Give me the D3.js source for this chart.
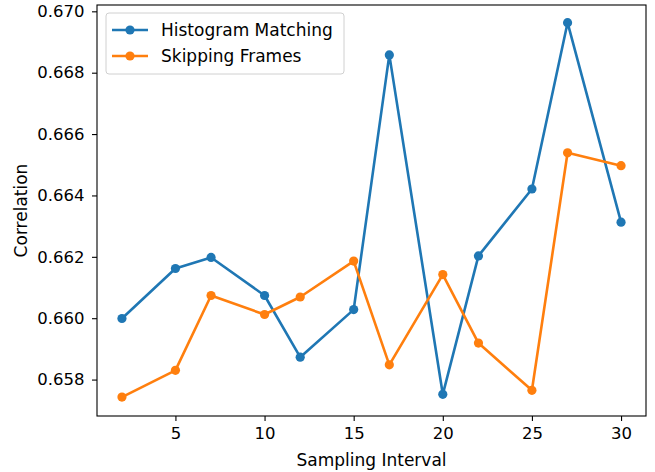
<!DOCTYPE html>
<html>
<head>
<meta charset="utf-8">
<script src="https://cdn.jsdelivr.net/npm/d3@7"></script>
<style>
  body { margin: 0; background: #fff; }
  text { font-family: "DejaVu Sans", sans-serif; fill: #000; }
</style>
</head>
<body>
<script>
// data
var intervals = [2, 5, 7, 10, 12, 15, 17, 20, 22, 25, 27, 30];
var histMatching = [0.65999, 0.66162, 0.66198, 0.66074, 0.65873, 0.66028,
                    0.66858, 0.65752, 0.66203, 0.66421, 0.66963, 0.66313];
var skipFrames = [0.65743, 0.65830, 0.66074, 0.66012, 0.66069, 0.66186,
                  0.65848, 0.66142, 0.65919, 0.65765, 0.66539, 0.66497];
var xTicks = [5, 10, 15, 20, 25, 30];
var yTicks = [0.658, 0.660, 0.662, 0.664, 0.666, 0.668, 0.670];
var seriesNames = ['Histogram Matching', 'Skipping Frames'];

var width = 655, height = 472;
var margin = {left: 97, top: 5, right: 9, bottom: 56};

var x = d3.scaleLinear()
        .domain([0.6, 31.4])
        .range([margin.left, width - margin.right]),
    y = d3.scaleLinear()
        .domain([0.656813, 0.670206])
        .range([height - margin.bottom, margin.top]),
    color = d3.scaleOrdinal()
        .domain(seriesNames)
        .range(['#1f77b4', '#ff7f0e']);

var svg = d3.select('body').append('svg')
    .attr('width', width)
    .attr('height', height);

var series = [
    {name: seriesNames[0], values: histMatching},
    {name: seriesNames[1], values: skipFrames}
];

var line = d3.line()
    .x(function(d) { return x(d[0]); })
    .y(function(d) { return y(d[1]); });

// lines + markers
series.forEach(function(s) {
    var pts = intervals.map(function(v, i) { return [v, s.values[i]]; });
    svg.append('path')
        .datum(pts)
        .attr('d', line)
        .attr('fill', 'none')
        .attr('stroke', color(s.name))
        .attr('stroke-width', 2.6)
        .attr('stroke-linejoin', 'round');
    svg.selectAll(null)
        .data(pts)
      .enter().append('circle')
        .attr('cx', function(d) { return x(d[0]); })
        .attr('cy', function(d) { return y(d[1]); })
        .attr('r', 4.6)
        .attr('fill', color(s.name));
});

// axes
var xAxis = svg.append('g')
    .attr('transform', 'translate(0,' + (height - margin.bottom) + ')')
    .call(d3.axisBottom(x).tickValues(xTicks).tickSize(5).tickPadding(6).tickFormat(d3.format('d')));
var yAxis = svg.append('g')
    .attr('transform', 'translate(' + margin.left + ',0)')
    .call(d3.axisLeft(y).tickValues(yTicks).tickSize(5).tickPadding(7.5).tickFormat(d3.format('.3f')));
[xAxis, yAxis].forEach(function(g) {
    g.attr('font-size', null).attr('font-family', null);
    g.select('.domain').remove();
    g.selectAll('line').attr('stroke', '#000').attr('stroke-width', 1.1);
    g.selectAll('text').style('font-size', '16.5px');
});

// frame
svg.append('rect')
    .attr('x', margin.left)
    .attr('y', margin.top)
    .attr('width', width - margin.right - margin.left)
    .attr('height', height - margin.bottom - margin.top)
    .attr('fill', 'none')
    .attr('stroke', '#000')
    .attr('stroke-width', 1.1);

// axis labels
svg.append('text')
    .attr('x', (margin.left + width - margin.right) / 2)
    .attr('y', 466)
    .attr('text-anchor', 'middle')
    .style('font-size', '17px')
    .text('Sampling Interval');
svg.append('text')
    .attr('transform', 'translate(27,' + ((margin.top + height - margin.bottom) / 2) + ') rotate(-90)')
    .attr('text-anchor', 'middle')
    .style('font-size', '17px')
    .text('Correlation');

// legend
var legend = svg.append('g');
legend.append('rect')
    .attr('x', 106).attr('y', 13)
    .attr('width', 238).attr('height', 61)
    .attr('rx', 3)
    .attr('fill', '#fff').attr('fill-opacity', 0.8)
    .attr('stroke', '#d0d0d0');
var rows = legend.selectAll('.row')
    .data(seriesNames)
  .enter().append('g')
    .attr('transform', function(d, i) { return 'translate(0,' + (30 + i * 26) + ')'; });
rows.append('line')
    .attr('x1', 112).attr('x2', 148)
    .attr('stroke', function(d) { return color(d); })
    .attr('stroke-width', 2.6);
rows.append('circle')
    .attr('cx', 130).attr('r', 4.6)
    .attr('fill', function(d) { return color(d); });
rows.append('text')
    .attr('x', 161).attr('dy', '0.35em')
    .style('font-size', '17px')
    .text(function(d) { return d; });
</script>
</body>
</html>
